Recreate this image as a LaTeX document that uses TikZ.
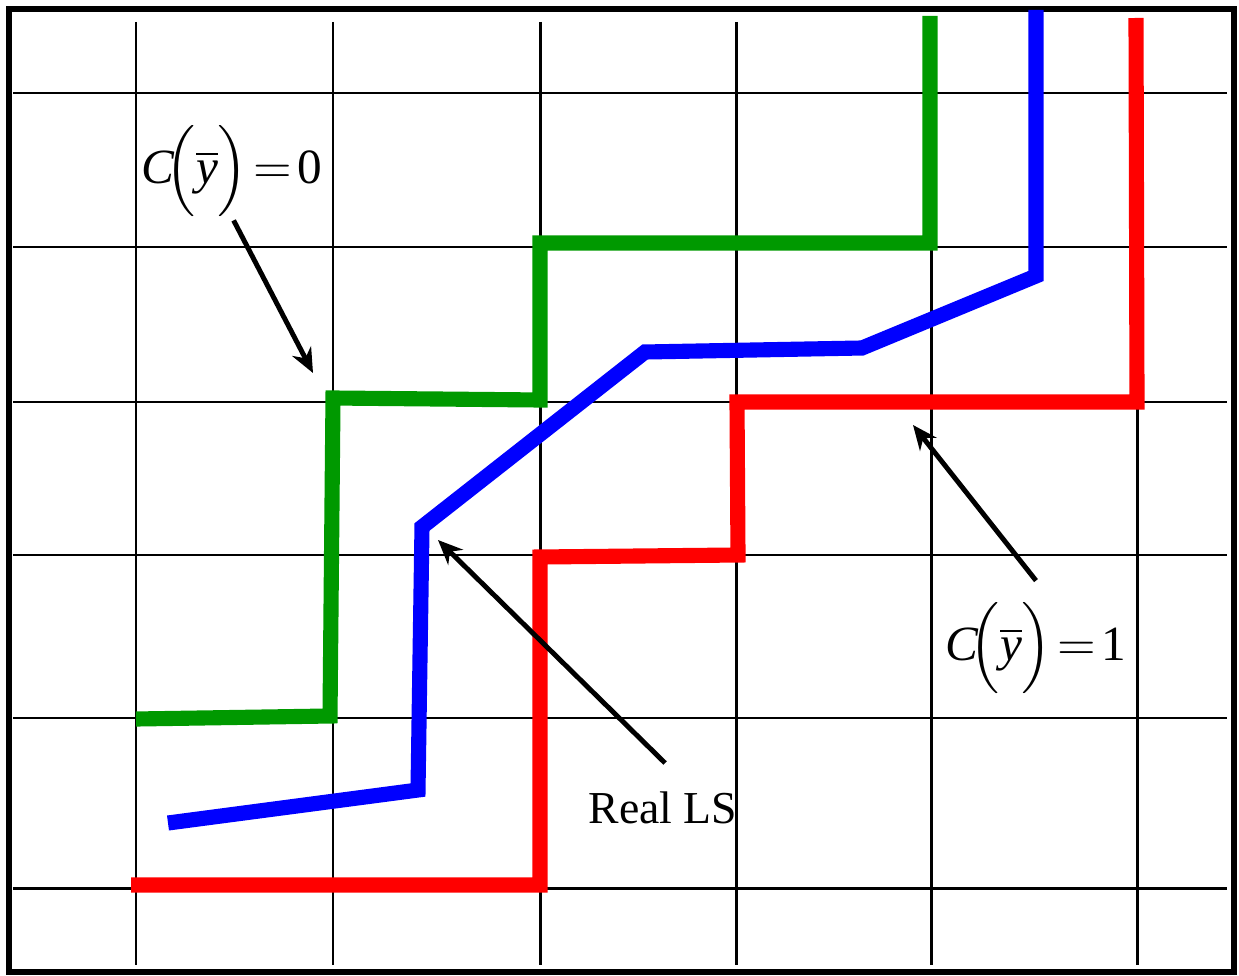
\documentclass[tikz,border=0pt]{standalone}
\usepackage{amsmath}
\usepackage{fontspec}
\setmainfont{Liberation Serif}
\usetikzlibrary{arrows.meta}
\definecolor{lsgreen}{RGB}{0,153,0}

\begin{document}
\begin{tikzpicture}[x=0.01cm, y=-0.01cm, every node/.style={font=\fontsize{13}{15}\selectfont, inner sep=0pt}, eqn/.style={font=\fontsize{14}{16}\selectfont}, grid/.style={line width=0.85pt}, ls/.style={line width=4.3pt, line join=miter}, arr/.style={-{Stealth[length=7pt,width=6pt]}, line width=1.4pt}]
\useasboundingbox (0,0) rectangle (1239,976);
\draw[line width=1.7pt] (9,9) rectangle (1234,972);
\foreach \x in {136,333,540,736,931,1137} \draw[grid] (\x,22) -- (\x,965);
\foreach \y in {93,247,402,555,718,888} \draw[grid] (13,\y) -- (1227,\y);
\draw[ls, lsgreen] (136,719) -- (330,716) -- (333,398) -- (540,400) -- (540,243) -- (930,243) -- (930,16);
\draw[ls, blue] (168,823) -- (418,790) -- (422,527) -- (645,352) -- (862,348) -- (1036,276) -- (1036,10);
\draw[ls, red] (131,885) -- (540,885) -- (540,557) -- (738,555) -- (737,402) -- (1137,402) -- (1136,18);
\node[eqn] (czero) at (232,171) {$\textit{C}\!\Big(\overline{\textit{y}}\Big)\!=\!\textrm{0}$};
\node[eqn] (cone) at (1036,648) {$\textit{C}\!\Big(\overline{\textit{y}}\Big)\!=\!\textrm{1}$};
\node (reals) at (663,808) {Real LS};
\coordinate (zerotip) at (313,373); \coordinate (onetip) at (913,425); \coordinate (lstip) at (438,540);
\draw[arr, shorten <=1pt] (czero.south) -- (zerotip); \draw[arr] ([yshift=6pt]cone.north) -- (onetip); \draw[arr] ([xshift=0.6pt,yshift=8pt]reals.north) -- (lstip);
\end{tikzpicture}
\end{document}
